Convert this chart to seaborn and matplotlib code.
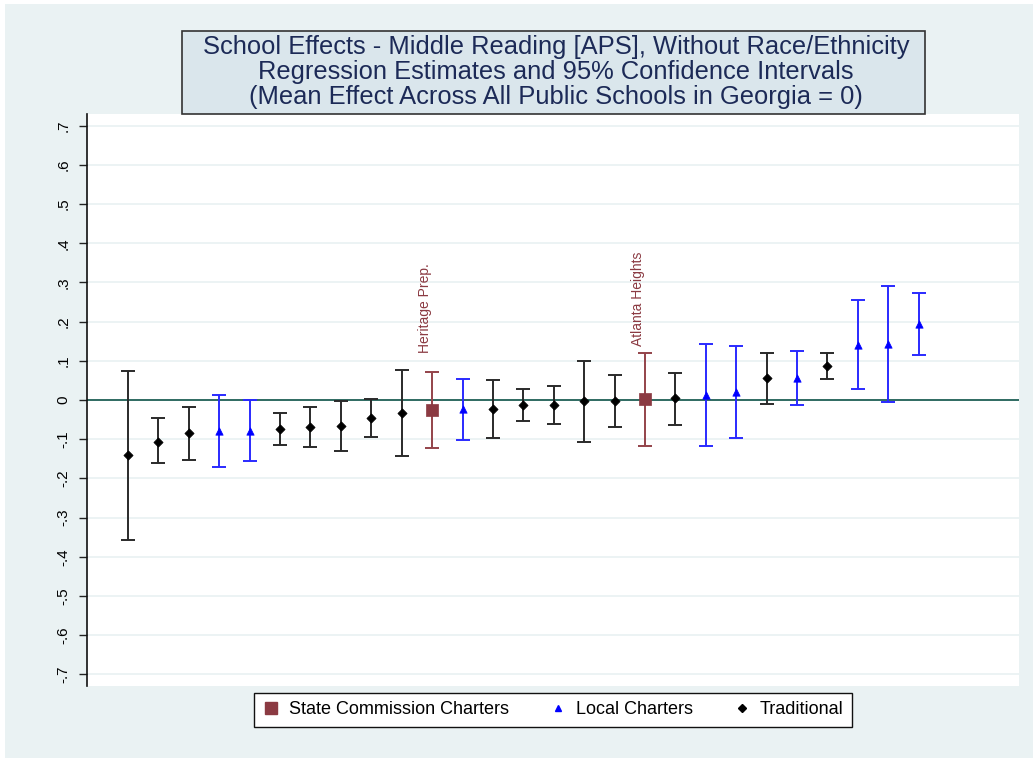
import matplotlib
matplotlib.use("Agg")
import matplotlib.pyplot as plt
from matplotlib.lines import Line2D
from matplotlib.patches import Rectangle
import numpy as np
import pandas as pd
import seaborn as sns

# school effects, sorted by estimate
estimate = [-0.140, -0.106, -0.085, -0.078, -0.078, -0.073, -0.068, -0.066, -0.046, -0.032,
            -0.026, -0.024, -0.023, -0.013, -0.013, -0.003, -0.003, 0.002, 0.004, 0.014,
            0.021, 0.056, 0.057, 0.087, 0.141, 0.144, 0.193]
ci_low = [-0.357, -0.161, -0.152, -0.170, -0.155, -0.115, -0.120, -0.129, -0.094, -0.144,
          -0.123, -0.103, -0.097, -0.054, -0.061, -0.108, -0.070, -0.117, -0.063, -0.117,
          -0.098, -0.010, -0.014, 0.053, 0.027, -0.005, 0.114]
ci_high = [0.075, -0.047, -0.019, 0.013, 0.001, -0.032, -0.017, -0.003, 0.003, 0.077,
           0.071, 0.054, 0.050, 0.028, 0.035, 0.099, 0.065, 0.121, 0.070, 0.143,
           0.138, 0.120, 0.125, 0.120, 0.255, 0.291, 0.272]
school_type = ["T", "T", "T", "L", "L", "T", "T", "T", "T", "T",
               "S", "L", "T", "T", "T", "T", "T", "S", "T", "L",
               "L", "T", "L", "T", "L", "L", "L"]
names = {11: "Heritage Prep.", 18: "Atlanta Heights"}
label_offsets = {11: 14, 18: 5}

type_names = {"S": "State Commission Charters", "L": "Local Charters", "T": "Traditional"}
colors = {"S": "#8B3A42", "L": "#0000FF", "T": "#000000"}
bar_colors = {"S": "#94434A", "L": "#2A2AFF", "T": "#2A2A2A"}
markers = {"S": "s", "L": "^", "T": "D"}
sizes = {"S": 70, "L": 28, "T": 22}

y_ticks = [-0.7, -0.6, -0.5, -0.4, -0.3, -0.2, -0.1, 0, 0.1, 0.2, 0.3, 0.4, 0.5, 0.6, 0.7]
y_tick_labels = ["-.7", "-.6", "-.5", "-.4", "-.3", "-.2", "-.1", "0",
                 ".1", ".2", ".3", ".4", ".5", ".6", ".7"]

df = pd.DataFrame({"rank": np.arange(1, len(estimate) + 1), "est": estimate,
                   "lo": ci_low, "hi": ci_high, "type": school_type})

bg = "#EAF2F3"
fonts = ["Liberation Sans", "DejaVu Sans"]
fig = plt.figure(figsize=(10.33, 7.58), dpi=100, facecolor="white")
fig.patches.append(Rectangle((5 / 1033, 0), 1, 1 - 4 / 758, transform=fig.transFigure,
                             facecolor=bg, edgecolor="none", zorder=-10))
ax = fig.add_axes([87 / 1033, 72 / 758, (1019 - 87) / 1033, (686 - 114) / 758])
ax.set_facecolor("white")

for ty, sub in df.groupby("type"):
    ax.errorbar(sub["rank"], sub["est"], yerr=[sub["est"] - sub["lo"], sub["hi"] - sub["est"]],
                fmt="none", ecolor=bar_colors[ty], elinewidth=1.4, capsize=5, capthick=1.4, zorder=2)

for ty in ["T", "L", "S"]:
    sub = df[df["type"] == ty]
    sns.scatterplot(data=sub, x="rank", y="est", marker=markers[ty], color=colors[ty],
                    s=sizes[ty], edgecolor=colors[ty], linewidth=0.5, ax=ax, legend=False, zorder=3)

ax.axhline(0, color="#2F6B62", lw=1.4, zorder=1)

for i, txt in names.items():
    row = df.iloc[i - 1]
    ax.annotate(txt, xy=(row["rank"], row["hi"]), xytext=(-5, label_offsets[i]),
                textcoords="offset points", rotation=90, ha="center", va="bottom",
                color=colors["S"], fontsize=10, family=fonts)

ax.set_xlim(-0.35, 30.3)
ax.set_ylim(-0.73, 0.73)
ax.set_yticks(y_ticks)
ax.set_yticklabels(y_tick_labels, rotation=90, va="center", fontsize=11, family=fonts)
ax.set_xticks([])
ax.tick_params(axis="y", length=6, width=1, color="#222222", pad=6)
for y in y_ticks:
    ax.axhline(y, color=bg, lw=1.3, zorder=0)
for side in ["top", "right", "bottom"]:
    ax.spines[side].set_visible(False)
ax.spines["left"].set_color("#111111")
ax.spines["left"].set_linewidth(1.2)
ax.set_xlabel("")
ax.set_ylabel("")

# title box
fig.patches.append(Rectangle((182 / 1033, 1 - 114 / 758), (925 - 182) / 1033, (114 - 31) / 758,
                             transform=fig.transFigure, facecolor="#DAE6EC", edgecolor="#333333",
                             lw=1.2, zorder=1))
title_lines = ["School Effects - Middle Reading [APS], Without Race/Ethnicity",
               "Regression Estimates and 95% Confidence Intervals",
               "(Mean Effect Across All Public Schools in Georgia = 0)"]
for k, line in enumerate(title_lines):
    fig.text(556 / 1033, 1 - (47 + 25 * k) / 758, line, ha="center", va="center",
             fontsize=18.4, color="#1C2A57", family=fonts, zorder=2)

handles = [Line2D([], [], ls="none", marker=markers[t], color=colors[t],
                  markersize={"S": 8, "L": 4.5, "T": 4.5}[t]) for t in ["S", "L", "T"]]
leg = fig.legend(handles, [type_names[t] for t in ["S", "L", "T"]], loc="center",
                 bbox_to_anchor=(553 / 1033, 1 - 710 / 758), ncol=3, frameon=True, fancybox=False,
                 edgecolor="#111111", facecolor="white", framealpha=1, columnspacing=2.2,
                 handlelength=1.0, handletextpad=0.5, borderpad=0.45,
                 prop={"family": fonts, "size": 13})
leg.get_frame().set_linewidth(1.0)

fig.savefig("out.png", dpi=100, facecolor=fig.get_facecolor())
